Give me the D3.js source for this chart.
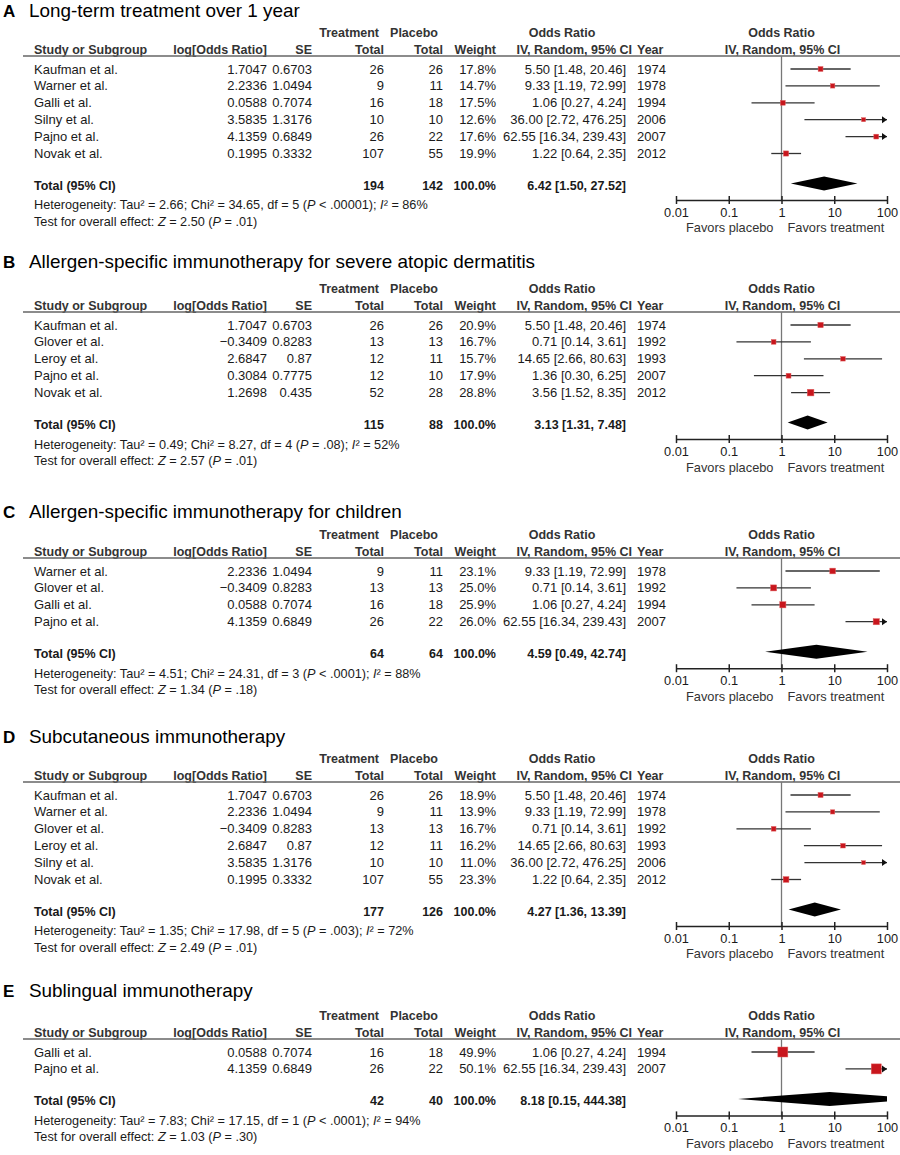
<!DOCTYPE html>
<html>
<head>
<meta charset="utf-8">
<script src="https://cdn.jsdelivr.net/npm/d3@7"></script>
<style>
    body { margin: 0; background: #fff; }
    svg text { font-family: "Liberation Sans", Arial, sans-serif; }
</style>
</head>
<body>
<div class="forestContainer"></div>
<script>
//panel labels and titles
const panelLetters = ['A', 'B', 'C', 'D', 'E'];
const panelTitles = [
    'Long-term treatment over 1 year',
    'Allergen-specific immunotherapy for severe atopic dermatitis',
    'Allergen-specific immunotherapy for children',
    'Subcutaneous immunotherapy',
    'Sublingual immunotherapy'
];

//one row per study: name, log OR, SE, treatment total, placebo total, weight %, OR, CI low, CI high, year
const studiesA = [
    ['Kaufman et al.', 1.7047, 0.6703, 26, 26, 17.8, 5.50, 1.48, 20.46, 1974],
    ['Warner et al.', 2.2336, 1.0494, 9, 11, 14.7, 9.33, 1.19, 72.99, 1978],
    ['Galli et al.', 0.0588, 0.7074, 16, 18, 17.5, 1.06, 0.27, 4.24, 1994],
    ['Silny et al.', 3.5835, 1.3176, 10, 10, 12.6, 36.00, 2.72, 476.25, 2006],
    ['Pajno et al.', 4.1359, 0.6849, 26, 22, 17.6, 62.55, 16.34, 239.43, 2007],
    ['Novak et al.', 0.1995, 0.3332, 107, 55, 19.9, 1.22, 0.64, 2.35, 2012]
];
const studiesB = [
    ['Kaufman et al.', 1.7047, 0.6703, 26, 26, 20.9, 5.50, 1.48, 20.46, 1974],
    ['Glover et al.', -0.3409, 0.8283, 13, 13, 16.7, 0.71, 0.14, 3.61, 1992],
    ['Leroy et al.', 2.6847, 0.87, 12, 11, 15.7, 14.65, 2.66, 80.63, 1993],
    ['Pajno et al.', 0.3084, 0.7775, 12, 10, 17.9, 1.36, 0.30, 6.25, 2007],
    ['Novak et al.', 1.2698, 0.435, 52, 28, 28.8, 3.56, 1.52, 8.35, 2012]
];
const studiesC = [
    ['Warner et al.', 2.2336, 1.0494, 9, 11, 23.1, 9.33, 1.19, 72.99, 1978],
    ['Glover et al.', -0.3409, 0.8283, 13, 13, 25.0, 0.71, 0.14, 3.61, 1992],
    ['Galli et al.', 0.0588, 0.7074, 16, 18, 25.9, 1.06, 0.27, 4.24, 1994],
    ['Pajno et al.', 4.1359, 0.6849, 26, 22, 26.0, 62.55, 16.34, 239.43, 2007]
];
const studiesD = [
    ['Kaufman et al.', 1.7047, 0.6703, 26, 26, 18.9, 5.50, 1.48, 20.46, 1974],
    ['Warner et al.', 2.2336, 1.0494, 9, 11, 13.9, 9.33, 1.19, 72.99, 1978],
    ['Glover et al.', -0.3409, 0.8283, 13, 13, 16.7, 0.71, 0.14, 3.61, 1992],
    ['Leroy et al.', 2.6847, 0.87, 12, 11, 16.2, 14.65, 2.66, 80.63, 1993],
    ['Silny et al.', 3.5835, 1.3176, 10, 10, 11.0, 36.00, 2.72, 476.25, 2006],
    ['Novak et al.', 0.1995, 0.3332, 107, 55, 23.3, 1.22, 0.64, 2.35, 2012]
];
const studiesE = [
    ['Galli et al.', 0.0588, 0.7074, 16, 18, 49.9, 1.06, 0.27, 4.24, 1994],
    ['Pajno et al.', 4.1359, 0.6849, 26, 22, 50.1, 62.55, 16.34, 239.43, 2007]
];

//pooled totals: treatment total, placebo total, OR, CI low, CI high
const totals = [
    [194, 142, 6.42, 1.50, 27.52],
    [115, 88, 3.13, 1.31, 7.48],
    [64, 64, 4.59, 0.49, 42.74],
    [177, 126, 4.27, 1.36, 13.39],
    [42, 40, 8.18, 0.15, 444.38]
];

//heterogeneity: tau², chi², df, P, I²
const heterogeneity = [
    ['2.66', '34.65', 5, '< .00001', '86%'],
    ['0.49', '8.27', 4, '= .08', '52%'],
    ['4.51', '24.31', 3, '< .0001', '88%'],
    ['1.35', '17.98', 5, '= .003', '72%'],
    ['7.83', '17.15', 1, '< .0001', '94%']
];

//test for overall effect: Z, P
const overallTest = [
    ['2.50', '= .01'],
    ['2.57', '= .01'],
    ['1.34', '= .18'],
    ['2.49', '= .01'],
    ['1.03', '= .30']
];

const axisTicks = [0.01, 0.1, 1, 10, 100];

const allStudies = [studiesA, studiesB, studiesC, studiesD, studiesE];

//layout: title baseline and the "Treatment / Placebo" header row of each panel
const titleY = [16.5, 268, 518, 743, 997];
const tableY = [33, 289, 535, 759, 1016];
const rowStep = 16.9;

//right edges of the table columns
const col = {study: 34, logOR: 267, se: 312, nT: 384, nP: 443, weight: 496, ci: 626, year: 637};

const fmt2 = d3.format('.2f');
const minus = v => String(v).replace('-', '\u2212');

//x scale of the forest plot
const xScale = d3.scaleLog()
                .domain([0.01, 100])
                .range([676, 887]);

//square size follows study weight
const sizeScale = d3.scaleLinear()
                .domain([0, 50])
                .range([2, 10]);

const svg = d3.select('.forestContainer')
    .append('svg')
    .attr('width', 900)
    .attr('height', 1155);

//small helper for a line of text
function addText(g, x, y, str, anchor, opts = {}){
    return g.append('text')
        .attr('x', x)
        .attr('y', y)
        .attr('dy', '0.35em')
        .attr('text-anchor', anchor)
        .style('font-size', opts.size || '13px')
        .style('font-weight', opts.bold ? 'bold' : 'normal')
        .style('fill', opts.fill || '#1a1a1a')
        .text(str);
}

//draw one panel
function drawPanel(i){
    const g = svg.append('g').attr('class', 'panel-' + panelLetters[i]);
    const studies = allStudies[i];
    const tot = totals[i];
    const t0 = tableY[i];

    //title (the original type is a bit wider than Arial, so stretch it)
    g.append('text')
        .attr('x', 3)
        .attr('y', titleY[i])
        .style('font-size', '17px')
        .style('font-weight', 'bold')
        .text(panelLetters[i]);
    g.append('text')
        .attr('transform', `translate(29, ${titleY[i]}) scale(1.08, 1)`)
        .style('font-size', '17.5px')
        .text(panelTitles[i]);

    //column headers
    const hd = {size: '12.5px', bold: true, fill: '#333'};
    addText(g, 379, t0, 'Treatment', 'end', hd);
    addText(g, 438, t0, 'Placebo', 'end', hd);
    addText(g, 562, t0, 'Odds Ratio', 'middle', hd);
    addText(g, xScale(1), t0, 'Odds Ratio', 'middle', hd);

    const h2 = t0 + 17;
    addText(g, col.study, h2, 'Study or Subgroup', 'start', hd);
    addText(g, col.logOR, h2, 'log[Odds Ratio]', 'end', hd);
    addText(g, col.se, h2, 'SE', 'end', hd);
    addText(g, col.nT, h2, 'Total', 'end', hd);
    addText(g, col.nP, h2, 'Total', 'end', hd);
    addText(g, col.weight, h2, 'Weight', 'end', hd);
    addText(g, 632, h2, 'IV, Random, 95% CI', 'end', hd);
    addText(g, col.year, h2, 'Year', 'start', hd);
    addText(g, xScale(1) + 1, h2, 'IV, Random, 95% CI', 'middle', hd);

    const lineY = t0 + 23;
    g.append('line')
        .attr('x1', 23).attr('x2', 900)
        .attr('y1', lineY).attr('y2', lineY)
        .style('stroke', '#666')
        .style('stroke-width', 1.5);

    const rowY = j => t0 + 36 + j * rowStep;
    const totalY = rowY(studies.length - 1) + 32;
    const axisY = totalY + 14.5;

    //study rows
    studies.forEach((d, j) => {
        const y = rowY(j);
        addText(g, col.study, y, d[0], 'start');
        addText(g, col.logOR, y, minus(d[1]), 'end');
        addText(g, col.se, y, String(d[2]), 'end');
        addText(g, col.nT, y, d[3], 'end');
        addText(g, col.nP, y, d[4], 'end');
        addText(g, col.weight, y, d3.format('.1f')(d[5]) + '%', 'end');
        addText(g, col.ci, y, `${fmt2(d[6])} [${fmt2(d[7])}, ${fmt2(d[8])}]`, 'end');
        addText(g, col.year, y, d[9], 'start');
    });

    //total row
    const tb = {bold: true, size: '12.5px'};
    addText(g, col.study, totalY, 'Total (95% CI)', 'start', tb);
    addText(g, col.nT, totalY, tot[0], 'end', tb);
    addText(g, col.nP, totalY, tot[1], 'end', tb);
    addText(g, col.weight, totalY, '100.0%', 'end', tb);
    addText(g, col.ci, totalY, `${fmt2(tot[2])} [${fmt2(tot[3])}, ${fmt2(tot[4])}]`, 'end', tb);

    //heterogeneity and overall test lines, with italic letters
    const sm = {size: '12.7px'};
    const het = heterogeneity[i];
    const ht = addText(g, col.study, totalY + 19.5, '', 'start', sm);
    ht.append('tspan').text(`Heterogeneity: Tau\u00b2 = ${het[0]}; Chi\u00b2 = ${het[1]}, df = ${het[2]} (`);
    ht.append('tspan').style('font-style', 'italic').text('P');
    ht.append('tspan').text(` ${het[3]}); `);
    ht.append('tspan').style('font-style', 'italic').text('I');
    ht.append('tspan').text(`\u00b2 = ${het[4]}`);

    const ov = overallTest[i];
    const zt = addText(g, col.study, totalY + 36, '', 'start', sm);
    zt.append('tspan').text('Test for overall effect: ');
    zt.append('tspan').style('font-style', 'italic').text('Z');
    zt.append('tspan').text(` = ${ov[0]} (`);
    zt.append('tspan').style('font-style', 'italic').text('P');
    zt.append('tspan').text(` ${ov[1]})`);

    //line of no effect
    g.append('line')
        .attr('x1', xScale(1)).attr('x2', xScale(1))
        .attr('y1', lineY).attr('y2', axisY)
        .style('stroke', '#777')
        .style('stroke-width', 1.3);

    //confidence intervals, clipped at the axis ends with an arrow
    const [xMin, xMax] = xScale.domain();
    const ci = g.append('g').attr('class', 'ci-lines')
        .selectAll('.ci')
        .data(studies)
        .enter();

    ci.append('line')
        .attr('x1', d => xScale(Math.max(d[7], xMin)))
        .attr('x2', d => xScale(Math.min(d[8], xMax)))
        .attr('y1', (d, j) => rowY(j))
        .attr('y2', (d, j) => rowY(j))
        .style('stroke', '#333')
        .style('stroke-width', 1.3);

    ci.filter(d => d[8] > xMax)
        .append('path')
        .attr('d', d => {
            const y = rowY(studies.indexOf(d));
            const x = xScale(xMax);
            return `M${x},${y}L${x - 5},${y - 3.5}L${x - 5},${y + 3.5}Z`;
        })
        .style('fill', '#111');

    //weighted squares
    ci.append('rect')
        .attr('x', d => xScale(d[6]) - sizeScale(d[5]) / 2)
        .attr('y', (d, j) => rowY(j) - sizeScale(d[5]) / 2)
        .attr('width', d => sizeScale(d[5]))
        .attr('height', d => sizeScale(d[5]))
        .style('fill', '#c8161d')
        .style('stroke', '#e06060')
        .style('stroke-width', 0.5);

    //pooled diamond, clipped to the plot range
    const clipId = 'clip-' + panelLetters[i];
    g.append('clipPath').attr('id', clipId)
        .append('rect')
        .attr('x', xScale(xMin)).attr('width', xScale(xMax) - xScale(xMin))
        .attr('y', totalY - 20).attr('height', 40);

    const dy = totalY - 2;
    g.append('path')
        .attr('clip-path', `url(#${clipId})`)
        .attr('d', `M${xScale(tot[3])},${dy}L${xScale(tot[2])},${dy - 7}L${xScale(tot[4])},${dy}L${xScale(tot[2])},${dy + 7}Z`)
        .style('fill', '#000');

    //log axis
    const xAxis = d3.axisBottom(xScale)
                    .tickValues(axisTicks)
                    .tickFormat(d => String(d))
                    .tickSizeOuter(0);

    const axisDraw = g.append('g')
        .attr('class', 'x axis')
        .attr('transform', `translate(0, ${axisY})`)
        .call(xAxis);

    axisDraw.select('.domain').style('stroke', '#222').style('stroke-width', 1.5);
    axisDraw.selectAll('.tick line')
        .attr('y1', -4).attr('y2', 4)
        .style('stroke', '#222')
        .style('stroke-width', 1.5);
    axisDraw.selectAll('.tick text')
        .attr('y', 8)
        .style('font-size', '12.8px')
        .style('fill', '#1a1a1a')
        .style('font-family', '"Liberation Sans", Arial, sans-serif');

    addText(g, xScale(1) - 8, axisY + 28, 'Favors placebo', 'end', {size: '12.8px', fill: '#333'});
    addText(g, xScale(1) + 6, axisY + 28, 'Favors treatment', 'start', {size: '12.8px', fill: '#333'});
}

panelLetters.forEach((d, i) => drawPanel(i));
</script>
</body>
</html>
